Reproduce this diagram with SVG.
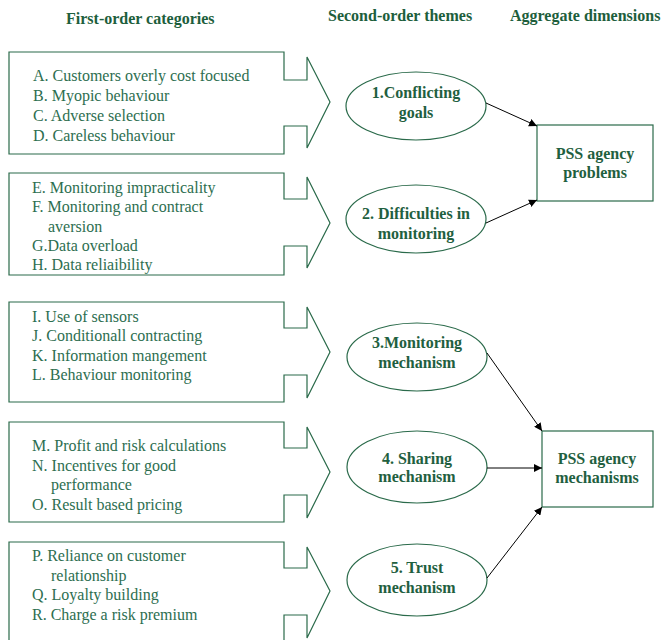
<svg xmlns="http://www.w3.org/2000/svg" width="664" height="640" viewBox="0 0 664 640">
<defs>
<marker id="ah" viewBox="0 0 10 10" refX="10" refY="5" markerWidth="8" markerHeight="8" markerUnits="userSpaceOnUse" orient="auto">
<path d="M0 0 L10 5 L0 10 Z" fill="#000"/>
</marker>
<style>
.shape{fill:#fff;stroke:#2a6a4a;stroke-width:1.2}
.hdr{font-family:"Liberation Serif","Times New Roman",serif;font-weight:bold;font-size:16px;fill:#1d5e3c}
.item{font-family:"Liberation Serif","Times New Roman",serif;font-size:16px;fill:#2d6e50}
.lbl{font-family:"Liberation Serif","Times New Roman",serif;font-weight:bold;font-size:16px;fill:#1f6040;text-anchor:middle}
.conn{stroke:#000;stroke-width:1;fill:none;marker-end:url(#ah)}
</style>
</defs>
<rect width="664" height="640" fill="#fff"/>
<g id="headers">
<text class="hdr" x="66" y="24">First-order categories</text>
<text class="hdr" x="328" y="21">Second-order themes</text>
<text class="hdr" x="510" y="21">Aggregate dimensions</text>
</g>
<g id="cat1">
<path class="shape" d="M9 52 H284 V80 H307 V57 L330 102 L307 148 V126 H284 V154 H9 Z"/>
<text class="item" x="33" y="81">A. Customers overly cost focused</text>
<text class="item" x="33" y="101">B. Myopic behaviour</text>
<text class="item" x="33" y="121">C. Adverse selection</text>
<text class="item" x="33" y="141">D. Careless behaviour</text>
</g>
<g id="cat2">
<path class="shape" d="M9 173 H284 V199 H307 V177 L330 223 L307 268 V246 H284 V275 H9 Z"/>
<text class="item" x="32" y="193">E. Monitoring impracticality</text>
<text class="item" x="32" y="212">F. Monitoring and contract</text>
<text class="item" x="48" y="232">aversion</text>
<text class="item" x="32" y="251">G.Data overload</text>
<text class="item" x="32" y="270">H. Data reliaibility</text>
</g>
<g id="cat3">
<path class="shape" d="M9 302 H284 V328 H307 V307 L330 352 L307 398 V375 H284 V402 H9 Z"/>
<text class="item" x="32" y="322">I. Use of sensors</text>
<text class="item" x="32" y="341">J. Conditionall contracting</text>
<text class="item" x="32" y="361">K. Information mangement</text>
<text class="item" x="32" y="380">L. Behaviour monitoring</text>
</g>
<g id="cat4">
<path class="shape" d="M9 422 H284 V448 H307 V427 L330 472 L307 518 V495 H284 V522 H9 Z"/>
<text class="item" x="32" y="451">M. Profit and risk calculations</text>
<text class="item" x="32" y="471">N. Incentives for good</text>
<text class="item" x="51" y="490">performance</text>
<text class="item" x="32" y="510">O. Result based pricing</text>
</g>
<g id="cat5">
<path class="shape" d="M9 542 H284 V568 H307 V547 L330 591 L307 638 V615 H284 V646 H9 Z"/>
<text class="item" x="32" y="561">P. Reliance on customer</text>
<text class="item" x="51" y="581">relationship</text>
<text class="item" x="32" y="600">Q. Loyalty building</text>
<text class="item" x="32" y="620">R. Charge a risk premium</text>
</g>
<g id="theme1">
<ellipse class="shape" cx="416" cy="106" rx="70" ry="34"/>
<text class="lbl" x="416" y="98">1.Conflicting</text>
<text class="lbl" x="416" y="118">goals</text>
</g>
<g id="theme2">
<ellipse class="shape" cx="416" cy="219" rx="70" ry="34"/>
<text class="lbl" x="416" y="219">2. Difficulties in</text>
<text class="lbl" x="416" y="239">monitoring</text>
</g>
<g id="theme3">
<ellipse class="shape" cx="417" cy="357" rx="70" ry="34"/>
<text class="lbl" x="417" y="348">3.Monitoring</text>
<text class="lbl" x="417" y="368">mechanism</text>
</g>
<g id="theme4">
<ellipse class="shape" cx="417" cy="467" rx="70" ry="36"/>
<text class="lbl" x="417" y="464">4. Sharing</text>
<text class="lbl" x="417" y="482">mechanism</text>
</g>
<g id="theme5">
<ellipse class="shape" cx="417" cy="580" rx="70" ry="36"/>
<text class="lbl" x="417" y="573">5. Trust</text>
<text class="lbl" x="417" y="593">mechanism</text>
</g>
<g id="agg1">
<rect class="shape" x="537" y="125" width="116" height="76"/>
<text class="lbl" x="595" y="159">PSS agency</text>
<text class="lbl" x="595" y="178">problems</text>
</g>
<g id="agg2">
<rect class="shape" x="542" y="431" width="111" height="76"/>
<text class="lbl" x="597" y="464">PSS agency</text>
<text class="lbl" x="597" y="483">mechanisms</text>
</g>
<g id="connectors">
<line class="conn" x1="486" y1="103" x2="537" y2="126"/>
<line class="conn" x1="486" y1="223" x2="537" y2="200"/>
<line class="conn" x1="487" y1="353" x2="542" y2="431"/>
<line class="conn" x1="487" y1="468" x2="542" y2="468"/>
<line class="conn" x1="487" y1="578" x2="542" y2="507"/>
</g>
</svg>
